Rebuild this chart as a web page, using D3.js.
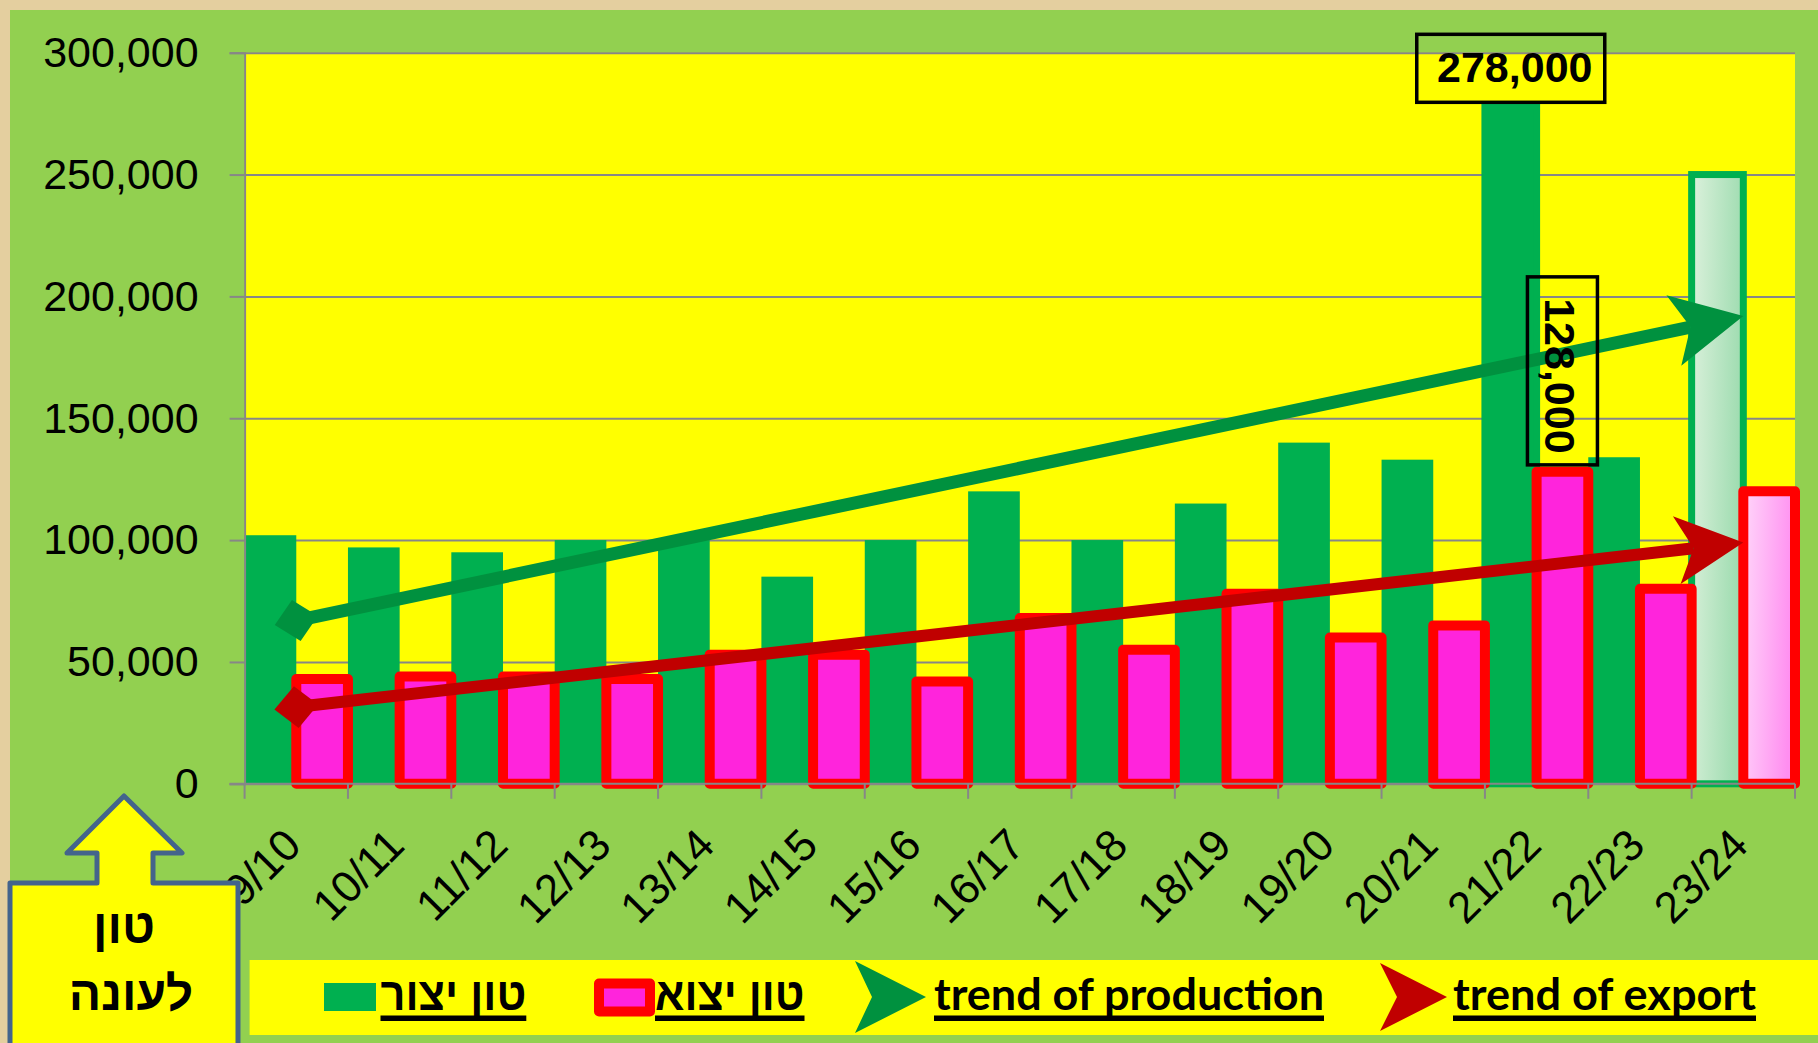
<!DOCTYPE html>
<html>
<head>
<meta charset="utf-8">
<script src="https://cdn.jsdelivr.net/npm/d3@7"></script>
<style>
body { margin: 0; background: #e4cf9f; }
svg { display: block; }
</style>
</head>
<body>
<div id="chart"></div>
<script>
// data
var seasons = ["09/10", "10/11", "11/12", "12/13", "13/14", "14/15", "15/16", "16/17",
    "17/18", "18/19", "19/20", "20/21", "21/22", "22/23", "23/24"];
var production = [102000, 97000, 95000, 100000, 100000, 85000, 100000, 120000,
    100000, 115000, 140000, 133000, 278000, 134000, 250000];
var exported = [43000, 44000, 44000, 43000, 53000, 53000, 42000, 68000,
    55000, 78000, 60000, 65000, 128000, 80000, 120000];
var yTicks = [0, 50000, 100000, 150000, 200000, 250000, 300000];
// trend lines: value at first and last season
var prodTrend = [67000, 192000];
var expTrend = [31500, 99000];
var labelledSeason = "21/22";
var forecastSeason = "23/24";
var legendLabels = ["טון יצור", "טון יצוא", "trend of production", "trend of export"];
var unitLabel = ["טון", "לעונה"];

var W = 1818, H = 1043;
var margin = {top: 52.7, right: 23, bottom: 259.2, left: 244.6};
var plotW = W - margin.left - margin.right;
var plotH = H - margin.top - margin.bottom;

var svg = d3.select("#chart").append("svg")
    .attr("width", W)
    .attr("height", H);

// gradients for the forecast season
var defs = svg.append("defs");
var gg = defs.append("linearGradient").attr("id", "gGreen").attr("x1", 0).attr("x2", 1).attr("y1", 0).attr("y2", 0.2);
gg.append("stop").attr("offset", "0%").attr("stop-color", "#dcf1dc");
gg.append("stop").attr("offset", "100%").attr("stop-color", "#9edcb0");
var gp = defs.append("linearGradient").attr("id", "gPink").attr("x1", 0).attr("x2", 1).attr("y1", 0).attr("y2", 0.2);
gp.append("stop").attr("offset", "0%").attr("stop-color", "#ffd6fa");
gp.append("stop").attr("offset", "100%").attr("stop-color", "#ff8ef0");

// backgrounds
svg.append("rect").attr("width", W).attr("height", H).attr("fill", "#e4cf9f");
svg.append("rect").attr("x", 10).attr("y", 10).attr("width", W - 10).attr("height", H - 10).attr("fill", "#92d050");

var plot = svg.append("g")
    .attr("transform", "translate(" + margin.left + "," + margin.top + ")");

plot.append("rect").attr("width", plotW).attr("height", plotH).attr("fill", "#ffff00");

// scales
var x = d3.scaleBand().domain(seasons).range([0, plotW]);
var y = d3.scaleLinear().domain([0, 300000]).range([plotH, 0]);
var half = x.bandwidth() / 2;

// gridlines
plot.append("g")
    .attr("class", "grid")
    .call(d3.axisLeft(y).tickValues(yTicks).tickSize(-plotW).tickFormat(""))
    .call(function(g) { g.select(".domain").remove(); })
    .selectAll("line").attr("stroke", "#878787").attr("stroke-width", 2);

// production bars
plot.selectAll(".prod")
    .data(production)
    .enter().append("rect")
    .attr("class", "prod")
    .attr("x", function(d, i) { return x(seasons[i]); })
    .attr("y", function(d) { return y(d); })
    .attr("width", half)
    .attr("height", function(d) { return plotH - y(d); })
    .attr("fill", function(d, i) { return seasons[i] == forecastSeason ? "url(#gGreen)" : "#00b050"; })
    .attr("stroke", "#00b050")
    .attr("stroke-width", function(d, i) {
        return (seasons[i] == forecastSeason || seasons[i] == labelledSeason) ? 7 : 0;
    });

// export bars
plot.selectAll(".exp")
    .data(exported)
    .enter().append("rect")
    .attr("class", "exp")
    .attr("x", function(d, i) { return x(seasons[i]) + half; })
    .attr("y", function(d) { return y(d); })
    .attr("width", half)
    .attr("height", function(d) { return plotH - y(d); })
    .attr("fill", function(d, i) { return seasons[i] == forecastSeason ? "url(#gPink)" : "#ff24dc"; })
    .attr("stroke", "#ff0000")
    .attr("stroke-width", 10)
    .attr("stroke-linejoin", "round");

// y axis
var yAxis = plot.append("g")
    .call(d3.axisLeft(y).tickValues(yTicks).tickFormat(d3.format(",")).tickSize(15).tickPadding(31));
yAxis.selectAll("line").attr("stroke", "#878787").attr("stroke-width", 2);
yAxis.select(".domain").attr("stroke", "#878787").attr("stroke-width", 2);
yAxis.selectAll("text")
    .attr("fill", "#000")
    .style("font-family", "'Liberation Sans', Arial, sans-serif")
    .style("font-size", "43px");

// x axis line and ticks at the band edges
plot.append("line")
    .attr("x1", -15).attr("x2", plotW)
    .attr("y1", plotH).attr("y2", plotH)
    .attr("stroke", "#878787").attr("stroke-width", 2);
var edges = seasons.map(function(s) { return x(s); }).concat([plotW]);
plot.selectAll(".xtick")
    .data(edges)
    .enter().append("line")
    .attr("x1", function(d) { return d; })
    .attr("x2", function(d) { return d; })
    .attr("y1", plotH)
    .attr("y2", plotH + 15)
    .attr("stroke", "#878787").attr("stroke-width", 2);

// trend arrows
function trend(v, color, lw, headL, headW, notch) {
    var x0 = x(seasons[0]) + half;
    var x1 = x(seasons[seasons.length - 1]) + half;
    var y0 = y(v[0]), y1 = y(v[1]);
    var ang = Math.atan2(y1 - y0, x1 - x0) * 180 / Math.PI;
    var len = Math.sqrt((x1 - x0) * (x1 - x0) + (y1 - y0) * (y1 - y0));
    var g = plot.append("g")
        .attr("transform", "translate(" + x0 + "," + y0 + ") rotate(" + ang + ")");
    g.append("line")
        .attr("x1", 0).attr("y1", 0)
        .attr("x2", len - notch).attr("y2", 0)
        .attr("stroke", color)
        .attr("stroke-width", lw);
    g.append("path")
        .attr("d", "M" + len + ",0L" + (len - headL) + "," + (-headW) + "L" + (len - notch) + ",0L" +
            (len - headL) + "," + headW + "Z")
        .attr("fill", color);
    g.append("path")
        .attr("d", "M-22,0L0,-21L22,0L0,21Z")
        .attr("fill", color);
}
trend(prodTrend, "#00913f", 13, 71, 36, 54);
trend(expTrend, "#c00000", 12, 67, 34, 50);

// data label boxes
var li = seasons.indexOf(labelledSeason);
var pcx = x(labelledSeason) + half / 2;
var ptop = y(production[li]);
plot.append("rect")
    .attr("x", pcx - 94).attr("y", ptop - 72)
    .attr("width", 188).attr("height", 68)
    .attr("fill", "none").attr("stroke", "#000").attr("stroke-width", 3.5);
plot.append("text")
    .attr("x", pcx + 4).attr("y", ptop - 24)
    .attr("text-anchor", "middle")
    .style("font-family", "'Liberation Sans', Arial, sans-serif")
    .style("font-weight", "bold")
    .style("font-size", "43px")
    .text(d3.format(",")(production[li]));

var ecx = x(labelledSeason) + half * 1.5;
var etop = y(exported[li]);
plot.append("rect")
    .attr("x", ecx - 35).attr("y", etop - 195)
    .attr("width", 70).attr("height", 188)
    .attr("fill", "none").attr("stroke", "#000").attr("stroke-width", 3.5);
plot.append("text")
    .attr("transform", "translate(" + (ecx - 2.5) + "," + (etop - 96) + ") rotate(90)")
    .attr("text-anchor", "middle")
    .attr("dy", "0.35em")
    .style("font-family", "'Liberation Sans', Arial, sans-serif")
    .style("font-weight", "bold")
    .style("font-size", "43px")
    .text(d3.format(",")(exported[li]));

// season labels
plot.selectAll(".xlab")
    .data(seasons)
    .enter().append("text")
    .attr("transform", function(d) {
        return "translate(" + (x(d) + half + 7) + "," + (plotH + 64) + ") rotate(-45)";
    })
    .attr("text-anchor", "end")
    .style("font-family", "'Liberation Sans', Arial, sans-serif")
    .style("font-size", "44px")
    .text(function(d) { return d; });

// unit callout (up arrow box)
svg.append("path")
    .attr("d", "M10,1050L10,883L97,883L97,853L67,853L124,796L182,853L153,853L153,883L238,883L238,1050")
    .attr("fill", "#ffff00")
    .attr("stroke", "#43648c")
    .attr("stroke-width", 5)
    .attr("stroke-linejoin", "round");
svg.selectAll(".unit")
    .data(unitLabel)
    .enter().append("text")
    .attr("x", function(d, i) { return i == 0 ? 124 : 131; })
    .attr("y", function(d, i) { return i == 0 ? 943 : 1010; })
    .attr("text-anchor", "middle")
    .style("font-family", "'Liberation Sans', 'DejaVu Sans', sans-serif")
    .style("font-weight", "bold")
    .style("font-size", "48px")
    .text(function(d) { return d; });

// legend
svg.append("rect")
    .attr("x", 249.6).attr("y", 960)
    .attr("width", W - 249.6).attr("height", 75)
    .attr("fill", "#ffff00");

svg.append("rect")
    .attr("x", 324).attr("y", 983).attr("width", 52).attr("height", 28)
    .attr("fill", "#00b050");
svg.append("rect")
    .attr("x", 599).attr("y", 983.5).attr("width", 51).attr("height", 28)
    .attr("fill", "#ff24dc").attr("stroke", "#ff0000").attr("stroke-width", 10)
    .attr("stroke-linejoin", "round");

function legendArrow(tipX, hl, hw, notch, color) {
    var cy = 997;
    svg.append("path")
        .attr("d", "M" + tipX + "," + cy + "L" + (tipX - hl) + "," + (cy - hw) + "L" + (tipX - notch) + "," + cy +
            "L" + (tipX - hl) + "," + (cy + hw) + "Z")
        .attr("fill", color);
}
legendArrow(926, 71, 36, 54, "#00913f");
legendArrow(1447, 67, 34, 50, "#c00000");

var legendText = [
    {x0: 380.5, x1: 526.3, base: 1010, heb: true},
    {x0: 655, x1: 804.5, base: 1010, heb: true},
    {x0: 934, x1: 1324, base: 1010, heb: false},
    {x0: 1453, x1: 1756, base: 1010, heb: false}
];
legendText.forEach(function(p, i) {
    svg.append("text")
        .attr("x", (p.x0 + p.x1) / 2)
        .attr("y", p.base)
        .attr("text-anchor", "middle")
        .attr("textLength", p.x1 - p.x0)
        .attr("lengthAdjust", "spacingAndGlyphs")
        .style("font-family", p.heb ? "'Liberation Sans', 'DejaVu Sans', sans-serif" : "Lato, 'Open Sans', sans-serif")
        .style("font-weight", "bold")
        .style("font-size", p.heb ? "46px" : "44px")
        .text(legendLabels[i]);
    svg.append("rect")
        .attr("x", p.x0).attr("y", 1015.5)
        .attr("width", p.x1 - p.x0).attr("height", 5.5)
        .attr("fill", "#000");
});
</script>
</body>
</html>
